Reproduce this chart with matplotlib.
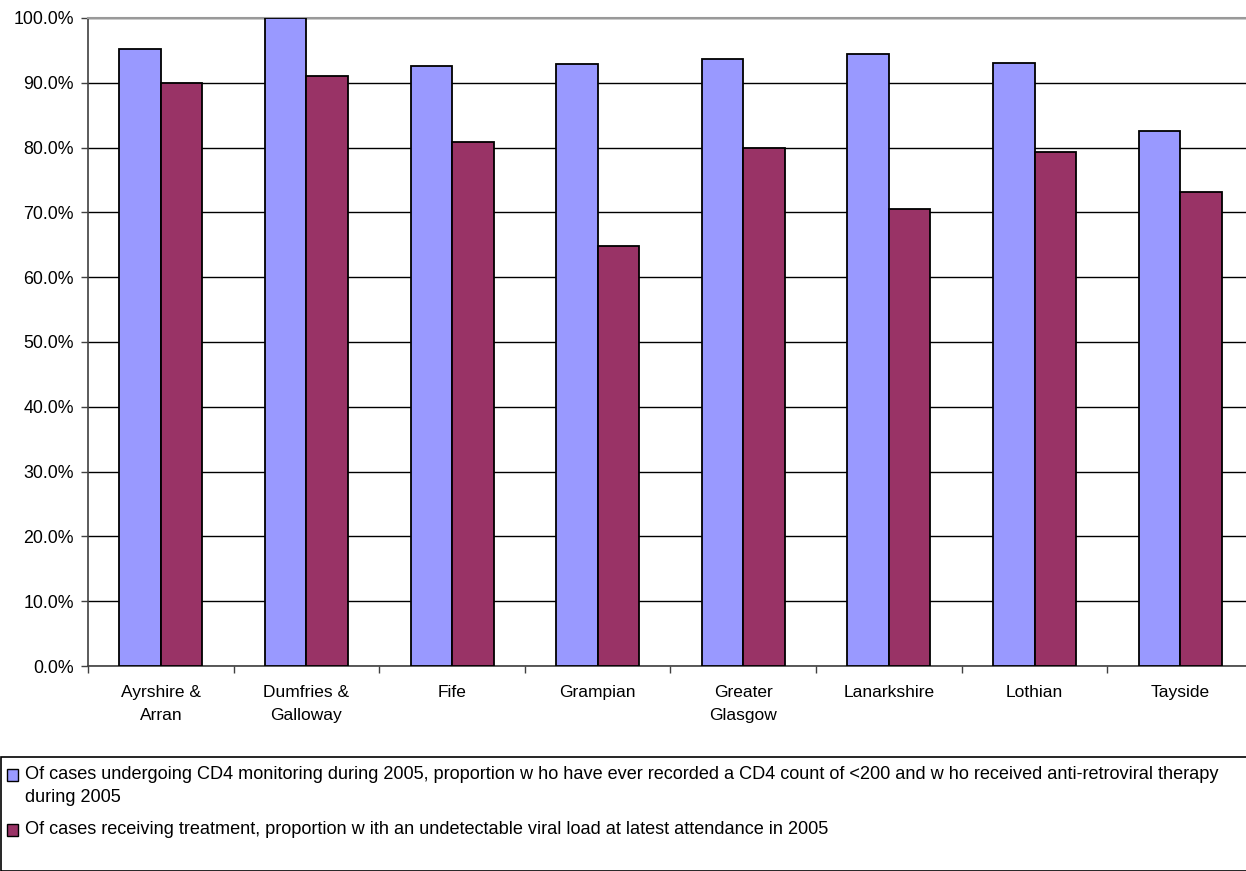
import matplotlib
matplotlib.use("Agg")
import matplotlib.pyplot as plt
from matplotlib.patches import Rectangle
from matplotlib.ticker import FuncFormatter, MultipleLocator, FixedLocator, NullFormatter
import numpy as np

plt.rcParams['font.family'] = ['Liberation Sans', 'DejaVu Sans']

boards = ["Ayrshire &\nArran", "Dumfries &\nGalloway", "Fife", "Grampian",
          "Greater\nGlasgow", "Lanarkshire", "Lothian", "Tayside"]
cd4_art = [95.2, 100.0, 92.6, 92.9, 93.6, 94.4, 93.1, 82.5]
undetectable = [90.0, 91.0, 80.9, 64.8, 79.9, 70.6, 79.3, 73.2]
series_labels = [
    "Of cases undergoing CD4 monitoring during 2005, proportion w ho have ever recorded a CD4 count of <200 and w ho received anti-retroviral therapy\nduring 2005",
    "Of cases receiving treatment, proportion w ith an undetectable viral load at latest attendance in 2005",
]
colors = ["#9999FF", "#993366"]

W, H = 1246, 871
fig = plt.figure(figsize=(W / 100, H / 100), dpi=100)
ax = fig.add_axes([88 / W, (H - 666) / H, 1165 / W, 648 / H])

x = np.arange(len(boards))
bw = 0.285
ax.bar(x - bw / 2, cd4_art, bw, color=colors[0], edgecolor="black", linewidth=1.3, zorder=3)
ax.bar(x + bw / 2, undetectable, bw, color=colors[1], edgecolor="black", linewidth=1.3, zorder=3)

ax.set_xlim(-0.5, len(boards) - 0.5)
ax.set_ylim(0, 100)
ax.yaxis.set_major_locator(MultipleLocator(10))
ax.yaxis.set_major_formatter(FuncFormatter(lambda v, p: f"{v:.1f}%"))
ax.grid(axis="y", color="black", linewidth=1.0, zorder=0)

ax.xaxis.set_major_locator(FixedLocator(np.arange(-0.5, len(boards), 1.0)))
ax.xaxis.set_major_formatter(NullFormatter())
ax.xaxis.set_minor_locator(FixedLocator(x))
ax.set_xticklabels(boards, minor=True)
ax.tick_params(axis="x", which="minor", length=0, pad=14, labelsize=12.5)
ax.tick_params(axis="x", which="major", length=5, width=1, color="#404040", direction="out")
ax.tick_params(axis="y", length=5, width=1, color="#404040", direction="out", labelsize=12.8, pad=5)
for lbl in ax.get_xticklabels(minor=True):
    lbl.set_linespacing(1.6)

for s in ["left", "bottom"]:
    ax.spines[s].set_color("#404040")
    ax.spines[s].set_linewidth(1.2)
ax.spines["top"].set_color("#999999")
ax.spines["top"].set_linewidth(1.5)
ax.spines["right"].set_visible(False)

# legend box drawn beneath the plot
fig.patches.append(Rectangle((0.5 / W, 0), 1300 / W, (H - 757) / H, transform=fig.transFigure,
                             fill=False, edgecolor="black", linewidth=1.2, clip_on=False))
rows_y = [775, 830]
for c, lab, yy in zip(colors, series_labels, rows_y):
    fig.patches.append(Rectangle((7 / W, (H - yy - 6) / H), 11 / W, 12 / H, transform=fig.transFigure,
                                 facecolor=c, edgecolor="black", linewidth=1.0))
    fig.text(25 / W, (H - yy + 9.5) / H, lab, ha="left", va="top", fontsize=13.1,
             linespacing=1.53)

fig.savefig("out.png", dpi=100)
